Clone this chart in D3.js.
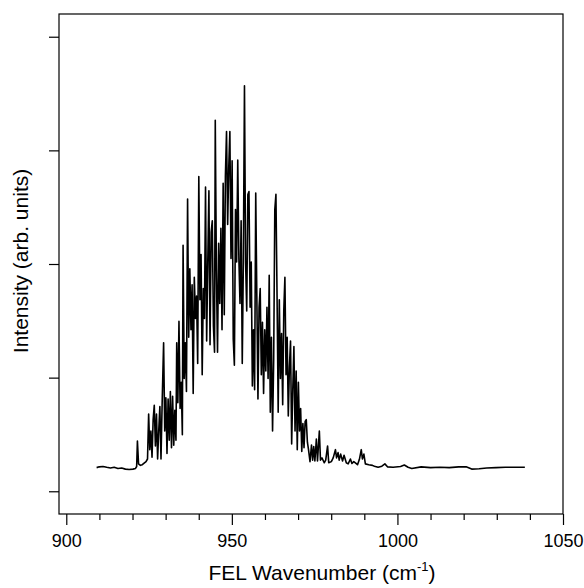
<!DOCTYPE html>
<html>
<head>
<meta charset="utf-8">
<script src="https://cdn.jsdelivr.net/npm/d3@7"></script>
<style>
  body { margin: 0; background: #fff; }
  svg { display: block; font-family: Arial, "Liberation Sans", sans-serif; }
  .axis text { font-size: 18px; fill: #000; }
  .axis line { stroke: #000; stroke-width: 1.2; }
</style>
</head>
<body>
<div id="chart"></div>
<script>
// wavenumber (cm-1) and intensity (arb. units)
const wavenumber = [
  909.16, 909.95, 911.08, 912.21, 913.34, 914.47, 915.60, 916.73, 917.86, 918.99,
  920.12, 920.91, 921.25, 921.48, 921.82, 922.38, 922.95, 923.51, 924.08, 924.53,
  924.87, 925.21, 925.55, 925.89, 926.23, 926.57, 926.91, 927.24, 927.58, 927.92,
  928.26, 928.60, 928.94, 929.39, 929.73, 930.07, 930.41, 930.75, 931.09, 931.43,
  931.77, 932.11, 932.45, 932.78, 933.12, 933.35, 933.69, 934.03, 934.37, 934.71,
  935.05, 935.27, 935.61, 935.95, 936.29, 936.63, 936.97, 937.31, 937.65, 937.99,
  938.32, 938.66, 939.00, 939.34, 939.68, 940.02, 940.36, 940.70, 941.04, 941.38,
  941.72, 942.05, 942.39, 942.73, 943.07, 943.41, 943.75, 944.09, 944.43, 944.77,
  944.99, 945.33, 945.67, 946.01, 946.35, 946.69, 947.03, 947.37, 947.71, 948.05,
  948.39, 948.73, 949.06, 949.40, 949.74, 950.08, 950.42, 950.76, 951.10, 951.44,
  951.78, 952.12, 952.46, 952.80, 953.14, 953.47, 953.81, 954.15, 954.49, 954.83,
  955.17, 955.51, 955.85, 956.19, 956.53, 956.87, 957.21, 957.54, 957.88, 958.22,
  958.56, 958.90, 959.24, 959.58, 959.92, 960.26, 960.60, 960.94, 961.28, 961.61,
  961.95, 962.29, 962.63, 962.97, 963.31, 963.65, 963.99, 964.33, 964.67, 965.01,
  965.35, 965.68, 966.02, 966.36, 966.70, 967.04, 967.38, 967.72, 968.06, 968.40,
  968.74, 969.08, 969.42, 969.75, 970.09, 970.43, 970.77, 971.11, 971.45, 971.79,
  972.13, 972.47, 972.81, 973.15, 973.60, 974.05, 974.39, 974.73, 975.07, 975.52,
  975.86, 976.42, 976.76, 977.21, 977.89, 978.34, 978.91, 979.25, 980.04, 980.60,
  981.28, 981.62, 982.07, 982.41, 982.86, 983.43, 983.88, 984.56, 985.12, 985.80,
  986.26, 986.82, 987.39, 987.95, 988.52, 989.08, 989.42, 989.87, 990.32, 991.34,
  992.47, 993.04, 994.17, 995.30, 996.21, 996.99, 998.69, 1000.95, 1002.08, 1003.21,
  1004.34, 1007.17, 1010.00, 1012.82, 1015.65, 1018.48, 1020.74, 1022.43, 1024.69, 1026.96,
  1029.78, 1032.61, 1035.43, 1038.48
];

const intensity = [
  20.8, 21.5, 21.8, 21.1, 20.5, 21.1, 20.1, 20.5, 19.5, 19.1,
  19.5, 20.1, 21.8, 44.2, 24.1, 22.8, 23.4, 24.8, 26.1, 28.4,
  68.0, 36.6, 53.1, 30.0, 63.0, 75.6, 39.9, 68.0, 28.4, 53.1,
  74.6, 28.4, 76.2, 130.7, 53.1, 82.2, 33.3, 81.2, 44.9, 87.8,
  38.3, 83.5, 40.6, 71.3, 44.9, 130.7, 77.9, 149.5, 72.9, 96.0,
  49.8, 216.5, 99.3, 130.7, 87.8, 257.1, 135.6, 195.7, 142.2, 181.8,
  86.1, 188.4, 152.1, 171.9, 112.5, 276.9, 168.6, 208.3, 102.6, 178.5,
  152.1, 267.7, 132.3, 201.7, 264.4, 129.0, 228.1, 238.0, 145.5, 122.4,
  326.4, 195.0, 122.4, 218.2, 165.3, 231.4, 142.2, 271.0, 155.4, 277.6,
  316.5, 234.7, 284.2, 316.5, 204.9, 290.8, 134.0, 110.9, 247.9, 201.7,
  291.4, 204.9, 165.3, 238.0, 112.5, 201.7, 356.8, 201.7, 158.7, 261.1,
  263.7, 162.0, 201.7, 92.7, 142.2, 89.4, 262.4, 171.9, 81.2, 162.0,
  178.5, 102.6, 148.8, 86.1, 142.2, 105.9, 162.0, 99.3, 190.1, 69.6,
  135.6, 53.1, 115.8, 247.9, 261.4, 171.9, 69.6, 168.6, 99.3, 138.9,
  76.2, 158.7, 188.4, 102.6, 135.6, 66.3, 109.2, 132.3, 41.6, 89.4,
  127.4, 53.1, 105.9, 36.6, 96.0, 53.1, 72.9, 35.0, 59.7, 38.3,
  61.4, 63.0, 43.2, 36.6, 26.1, 40.6, 27.4, 39.3, 26.7, 45.9,
  26.7, 53.1, 27.4, 29.4, 25.1, 27.4, 39.9, 25.1, 26.1, 29.4,
  36.6, 29.4, 34.0, 27.4, 32.7, 26.7, 31.7, 25.1, 24.1, 28.4,
  24.4, 26.1, 24.8, 23.4, 28.1, 36.6, 28.4, 32.7, 24.1, 23.4,
  22.8, 22.1, 21.1, 22.1, 24.1, 21.5, 21.1, 21.8, 23.1, 21.1,
  20.1, 21.5, 20.8, 21.1, 20.8, 21.5, 21.5, 19.5, 19.8, 20.5,
  20.8, 21.1, 21.1, 21.1
];

const xMajorTicks = [900, 950, 1000, 1050];
const xMinorTicks = [910, 920, 930, 940, 960, 970, 980, 990, 1010, 1020, 1030, 1040];
const yTicks = [0, 100, 200, 300, 400];

const totalWidth = 584;
const totalHeight = 588;
const plot = { left: 59, right: 563, top: 14, bottom: 514 };

const svg = d3.select('#chart').append('svg')
    .attr('width', totalWidth)
    .attr('height', totalHeight);

const xScale = d3.scaleLinear()
    .domain([897.8, 1050])
    .range([plot.left, plot.right]);

const yScale = d3.scaleLinear()
    .domain([-20, 420])
    .range([plot.bottom, plot.top]);

const data = wavenumber.map((w, i) => ({ x: w, y: intensity[i] }));

const line = d3.line()
    .x(d => xScale(d.x))
    .y(d => yScale(d.y));

svg.append('path')
    .datum(data)
    .attr('fill', 'none')
    .attr('stroke', '#000')
    .attr('stroke-width', 1.6)
    .attr('stroke-linejoin', 'round')
    .attr('d', line);

// minor x ticks
svg.append('g')
    .attr('class', 'axis')
    .attr('transform', `translate(0,${plot.bottom})`)
    .call(d3.axisBottom(xScale).tickValues(xMinorTicks).tickSize(6).tickFormat(''))
    .call(g => g.select('.domain').remove());

// major x ticks
svg.append('g')
    .attr('class', 'axis')
    .attr('transform', `translate(0,${plot.bottom})`)
    .call(d3.axisBottom(xScale).tickValues(xMajorTicks).tickSize(11).tickPadding(9).tickFormat(d3.format('d')))
    .call(g => g.select('.domain').remove());

svg.append('g')
    .attr('class', 'axis')
    .attr('transform', `translate(${plot.left},0)`)
    .call(d3.axisLeft(yScale).tickValues(yTicks).tickSize(10).tickFormat(''))
    .call(g => g.select('.domain').remove());

// frame
svg.append('rect')
    .attr('x', plot.left)
    .attr('y', plot.top)
    .attr('width', plot.right - plot.left)
    .attr('height', plot.bottom - plot.top)
    .attr('fill', 'none')
    .attr('stroke', '#000')
    .attr('stroke-width', 1.2);

const xLabel = svg.append('text')
    .attr('x', 322)
    .attr('y', 580)
    .attr('text-anchor', 'middle')
    .attr('font-size', 21)
    .text('FEL Wavenumber (cm');
xLabel.append('tspan')
    .attr('font-size', 13)
    .attr('dy', -9)
    .text('-1');
xLabel.append('tspan')
    .attr('dy', 9)
    .text(')');

svg.append('text')
    .attr('transform', 'rotate(-90)')
    .attr('x', -261)
    .attr('y', 28)
    .attr('text-anchor', 'middle')
    .attr('font-size', 21)
    .text('Intensity (arb. units)');
</script>
</body>
</html>
